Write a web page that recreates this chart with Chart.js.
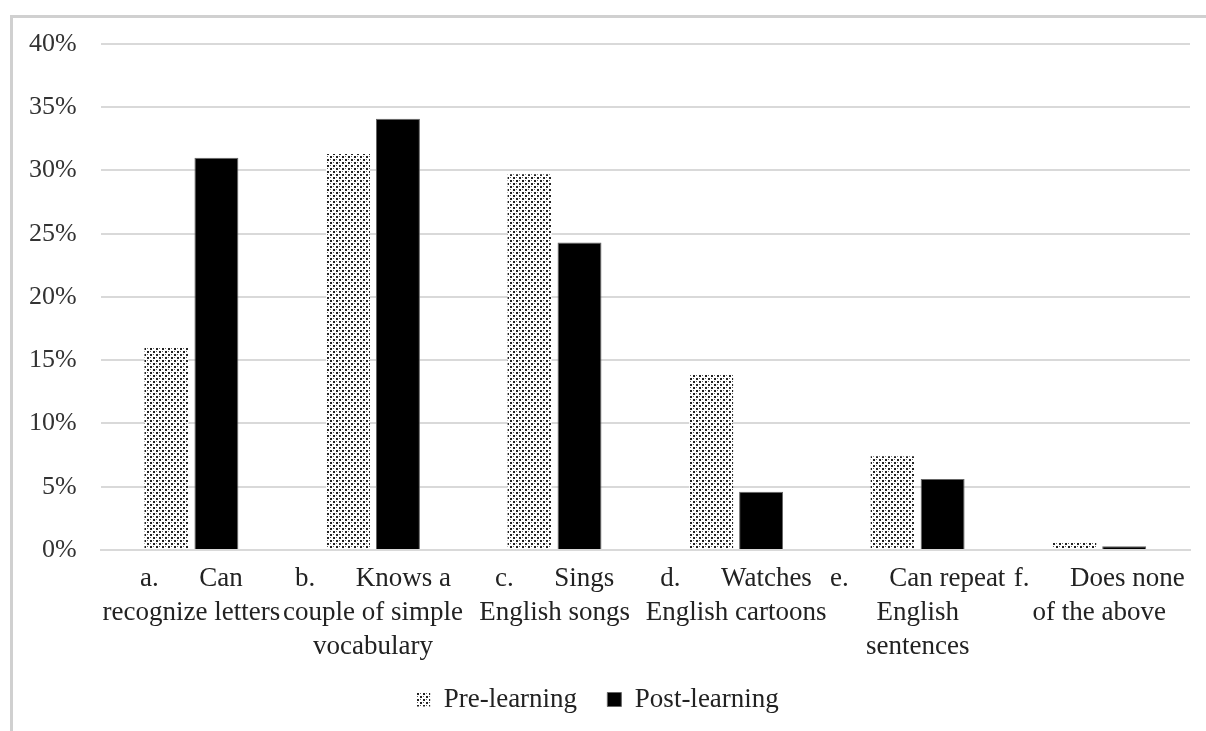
<!DOCTYPE html>
<html>
<head>
<meta charset="utf-8">
<script src="https://cdn.jsdelivr.net/npm/chart.js@4.4.1/dist/chart.umd.min.js"></script>
<style>
  html, body { margin: 0; padding: 0; background: #fff; }
  #frame {
    position: absolute; left: 10px; top: 15px; width: 1220px; height: 740px;
    border-left: 3px solid #d0d0d0; border-top: 3px solid #d0d0d0;
  }
  #wrap { position: absolute; left: 0; top: 0; width: 1206px; height: 731px; }
</style>
</head>
<body>
<div id="frame"></div>
<div id="wrap"><canvas id="chart"></canvas></div>
<script>
const categories = [
  ["a.      Can", "recognize letters"],
  ["b.      Knows a", "couple of simple", "vocabulary"],
  ["c.      Sings", "English songs"],
  ["d.      Watches", "English cartoons"],
  ["e.      Can repeat", "English", "sentences"],
  ["f.      Does none", "of the above"]
];
const preLearning = [0.160, 0.313, 0.297, 0.139, 0.074, 0.006];
const postLearning = [0.310, 0.341, 0.243, 0.046, 0.056, 0.003];
const yTicks = [0, 0.05, 0.10, 0.15, 0.20, 0.25, 0.30, 0.35, 0.40];

// 点々模様（Pre-learning 用）
function dotPattern() {
  const c = document.createElement("canvas");
  c.width = 6; c.height = 6;
  const g = c.getContext("2d");
  g.fillStyle = "#fff";
  g.fillRect(0, 0, 6, 6);
  g.fillStyle = "#222";
  g.fillRect(0, 0, 2, 2);
  g.fillRect(3, 3, 2, 2);
  g.fillStyle = "#666";
  g.fillRect(3, 0, 1, 1);
  g.fillRect(0, 3, 1, 1);
  return g.createPattern(c, "repeat");
}

const font = "'Liberation Serif', 'Times New Roman', serif";

new Chart(document.getElementById("chart"), {
  type: "bar",
  data: {
    labels: categories,
    datasets: [
      {
        label: "Pre-learning",
        data: preLearning,
        backgroundColor: dotPattern(),
        borderWidth: 0,
        categoryPercentage: 0.55,
        barPercentage: 0.88
      },
      {
        label: "Post-learning",
        data: postLearning,
        backgroundColor: "#000",
        borderColor: "#666",
        borderWidth: 1,
        categoryPercentage: 0.55,
        barPercentage: 0.88
      }
    ]
  },
  options: {
    responsive: true,
    maintainAspectRatio: false,
    animation: false,
    layout: { padding: { left: 5, right: 16, top: 44, bottom: 8 } },
    plugins: {
      tooltip: { enabled: false },
      legend: {
        position: "bottom",
        labels: {
          color: "#222",
          font: { family: font, size: 27 },
          boxWidth: 14,
          boxHeight: 14,
          padding: 10,
          // 凡例の間隔を広げるため、最初の項目の後ろに空白を足す
          generateLabels: chart => {
            const items = Chart.defaults.plugins.legend.labels.generateLabels(chart);
            items.forEach((it, i) => { if (i < items.length - 1) it.text += "   "; });
            return items;
          }
        }
      }
    },
    scales: {
      x: {
        grid: { display: false, drawTicks: false },
        border: { color: "#d9d9d9", width: 2 },
        ticks: {
          color: "#222",
          font: { family: font, size: 27, lineHeight: 1.26 },
          maxRotation: 0,
          autoSkip: false,
          padding: 12
        }
      },
      y: {
        min: 0,
        max: 0.4,
        afterBuildTicks: axis => { axis.ticks = yTicks.map(v => ({ value: v })); },
        grid: { color: "#d9d9d9", lineWidth: 2, drawTicks: false },
        border: { display: false },
        ticks: {
          color: "#333",
          font: { family: font, size: 26 },
          padding: 24,
          callback: v => Math.round(v * 100) + "%"
        }
      }
    }
  }
});
</script>
</body>
</html>
